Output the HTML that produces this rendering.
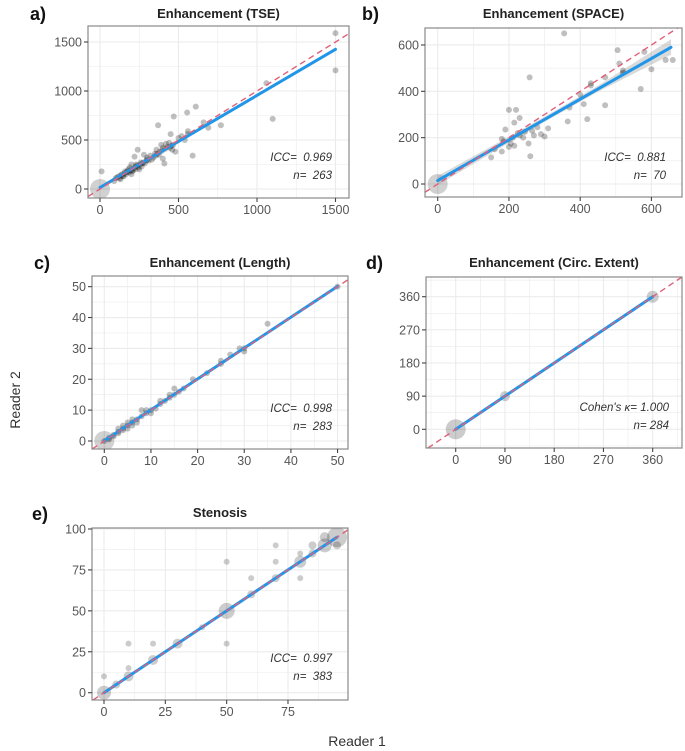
<!DOCTYPE html>
<html><head><meta charset="utf-8"><style>
html,body{margin:0;padding:0;background:#fff;width:685px;height:751px;overflow:hidden;}
svg{display:block;font-family:"Liberation Sans",sans-serif;overflow:hidden;}
text{white-space:pre;}
</style></head><body>
<svg id="chart" width="685" height="751" viewBox="0 0 685 751">
<text x="20" y="400" transform="rotate(-90 20 400)" text-anchor="middle" font-size="14" fill="#333">Reader 2</text>
<text x="357" y="746" text-anchor="middle" font-size="14" fill="#333">Reader 1</text>
</svg>
<script>
// ---- data ----
const aX=[10,1500,1500,1060,1100,770,690,660,610,555,470,370,590,560,520,500,450,420,400,380,350,300,280,240,220,200,180,160,140,120,100,90,230,260,300,330,410,400,460,480,540,560,250,200,150,130,170,210,190,230,270,320,360,390,440,110,125,135,145,155,165,175,185,195,205,215,225,235,245,255,265,275,285,295,310,340,355,365,375,395,415,430,445,455,465];
const aY=[180,1590,1210,1080,715,650,625,680,840,780,740,650,340,590,540,520,560,460,420,380,360,320,350,400,330,250,200,180,150,130,110,80,230,270,300,300,260,310,400,380,500,560,200,150,130,100,170,190,220,250,260,340,400,450,470,120,110,140,130,160,150,180,170,190,180,210,200,240,220,250,230,270,260,290,290,320,340,360,350,390,410,430,420,440,450];
const bX=[355,258,505,580,640,660,600,510,520,570,470,470,430,420,400,410,370,365,200,220,230,215,190,180,180,150,260,255,215,200,240,265,270,300,310,290,280,230,210,245,225,430,520,160,185,205];
const bY=[650,460,578,570,535,535,495,520,490,410,460,340,435,280,385,345,330,270,320,320,285,265,235,195,140,115,120,175,165,160,200,230,210,205,240,215,245,210,200,225,220,425,480,150,185,175];
const cX=[0,1,2,2,3,3,4,4,5,5,5,6,6,7,8,8,9,10,11,12,13,14,15,15,16,17,19,22,25,25,27,29,30,30,35,50,1,3,4,6,7,9,12,14,10];
const cY=[0,1,2,1.5,3,2.5,4,3.5,5,6,4,6,5,7,8,10,9,10,10.5,12,13,14,15,17,16,17,20,22,25,26,28,30,29,30,38,50,0.5,4,5,7,6,10,13,15,9];
const dX=[0,90,360];
const dY=[0,90,360];
const dR=[10,5,6];
const eX=[0,0,5,10,10,10,20,20,30,40,50,50,50,60,60,70,70,70,80,80,80,85,85,90,90,95,95];
const eY=[0,10,5,10,15,30,30,20,30,40,50,80,30,60,70,70,80,90,80,85,70,85,90,90,95,95,90];
const eR=[7,3,4,5,3,3,3,5,5,3,8,3,3,4,3,4,3,3,6,3,3,4,4,7,5,10,4];
const aTicks=[0,500,1000,1500], bTicks=[0,200,400,600], cTicks=[0,10,20,30,40,50], dTicks=[0,90,180,270,360], eTicks=[0,25,50,75,100], eXTicks=[0,25,50,75];
const fitSlope=[0.94,0.878,1.0,1.0,1.0];
const fitIntercept=[15,15,0.1,0,0];
const fitRange=[[0,1500],[0,655],[0,50],[0,360],[0,95]];
const bandX=[0,150,300,450,655];
const bandLo=[-5,132,268,398,558];
const bandHi=[35,162,290,424,624];
const titles=["Enhancement (TSE)","Enhancement (SPACE)","Enhancement (Length)","Enhancement (Circ. Extent)","Stenosis"];
const stat1=["ICC=  0.969","ICC=  0.881","ICC=  0.998","Cohen's \u03ba= 1.000","ICC=  0.997"];
const stat2=["n=  263","n=  70","n=  283","n= 284","n=  383"];

// ---- layout (pixel config) ----
const svg=document.getElementById('chart');
const NS='http://www.w3.org/2000/svg';
function mk(tag,attrs,parent){const e=document.createElementNS(NS,tag);for(const k in attrs)e.setAttribute(k,attrs[k]);(parent||svg).appendChild(e);return e;}
const panels=[
 {id:'a',box:[88,26,349,198],x0:100,xs:0.157,y0:189,ys:0.098,xt:aTicks,yt:aTicks,X:aX,Y:aY,lab:[30,20],ty:18,st:[332,161]},
 {id:'b',box:[425,28,682,197],x0:437.7,xs:0.3562,y0:184,ys:0.2317,xt:bTicks,yt:bTicks,X:bX,Y:bY,lab:[362,20],ty:18,st:[666,161]},
 {id:'c',box:[92,276,348,449],x0:104.3,xs:4.665,y0:441,ys:3.087,xt:cTicks,yt:cTicks,X:cX,Y:cY,lab:[34,269],ty:267,st:[332,412]},
 {id:'d',box:[426,277,682,448],x0:455.7,xs:0.5472,y0:429.3,ys:0.3683,xt:dTicks,yt:dTicks,X:dX,Y:dY,R:dR,lab:[366,269],ty:267,st:[669,411]},
 {id:'e',box:[92,528,348,700],x0:104,xs:2.453,y0:692.7,ys:1.637,xt:eXTicks,yt:eTicks,X:eX,Y:eY,R:eR,lab:[32,520],ty:517,st:[332,662]}
];
panels.forEach((p,i)=>{
 const g=mk('g',{},svg);
 
 
 const [L,T,Rr,B]=p.box;
 const sx=v=>p.x0+v*p.xs, sy=v=>p.y0-v*p.ys;
 const ix=px=>(px-p.x0)/p.xs, iy=py=>(p.y0-py)/p.ys;
 const clipId='clip'+p.id;
 const cp=mk('clipPath',{id:clipId},g);mk('rect',{x:L,y:T,width:Rr-L,height:B-T},cp);
 const bg=mk('rect',{x:L,y:T,width:Rr-L,height:B-T,fill:'#fff'},g);
 
 
 const grid=mk('g',{'clip-path':'url(#'+clipId+')'},g);
 
 
 const xstep=p.xt[1]-p.xt[0], ystep=p.yt[1]-p.yt[0];
 for(let v=Math.ceil(ix(L)/(xstep/2))*(xstep/2);sx(v)<=Rr;v+=xstep/2){const x=sx(v);mk('line',{x1:x,x2:x,y1:T,y2:B,stroke:'#ebebeb','stroke-width':(Math.abs((v/xstep)%1)<1e-6)?1.1:0.6},grid);}
 for(let v=Math.ceil(iy(B)/(ystep/2))*(ystep/2);sy(v)>=T;v+=ystep/2){const y=sy(v);mk('line',{x1:L,x2:Rr,y1:y,y2:y,stroke:'#ebebeb','stroke-width':(Math.abs((v/ystep)%1)<1e-6)?1.1:0.6},grid);}
 const marks=mk('g',{'clip-path':'url(#'+clipId+')'},g);
 if(!p.R){const h=mk('circle',{cx:sx(0),cy:sy(0),r:10,fill:'rgba(0,0,0,0.18)'},marks);
  
  }
 if(i===1){
  let d='';bandX.forEach((x,k)=>{d+=(k?'L':'M')+sx(x)+','+sy(bandHi[k]);});
  for(let k=bandX.length-1;k>=0;k--)d+='L'+sx(bandX[k])+','+sy(bandLo[k]);
  const band=mk('path',{d:d+'Z',fill:'rgba(150,150,150,0.35)'},marks);
  
  
 }
 p.X.forEach((x,k)=>{const c=mk('circle',{cx:sx(x),cy:sy(p.Y[k]),r:p.R?p.R[k]:3,fill:'rgba(0,0,0,'+(p.R?0.2:0.25)+')'},marks);
  
  });
 const [f0,f1]=fitRange[i];
 const fl=mk('line',{x1:sx(f0),y1:sy(fitIntercept[i]+fitSlope[i]*f0),x2:sx(f1),y2:sy(fitIntercept[i]+fitSlope[i]*f1),stroke:'#2196e8','stroke-width':3,'stroke-linecap':'round'},marks);
 
 
 const lo=Math.max(ix(L),iy(B)), hi=Math.min(ix(Rr),iy(T));
 const il=mk('line',{x1:sx(lo),y1:sy(lo),x2:sx(hi),y2:sy(hi),stroke:'#e0607a','stroke-width':1.4,'stroke-dasharray':'6,4'},marks);
 
 
 const border=mk('rect',{x:L,y:T,width:Rr-L,height:B-T,fill:'none',stroke:'#8a8a8a','stroke-width':1.2},g);
 
 
 p.xt.forEach(v=>{const x=sx(v);mk('line',{x1:x,x2:x,y1:B,y2:B+4,stroke:'#444','stroke-width':1.1},g);
  const t=mk('text',{x:x,y:B+16,'text-anchor':'middle','font-size':12.5,fill:'#555'},g);t.textContent=v;
  
  });
 p.yt.forEach(v=>{const y=sy(v);mk('line',{x1:L-4,x2:L,y1:y,y2:y,stroke:'#444','stroke-width':1.1},g);
  const t=mk('text',{x:L-6,y:y+4.5,'text-anchor':'end','font-size':12.5,fill:'#555'},g);t.textContent=v;
  
  });
 const tt=mk('text',{x:(L+Rr)/2,y:p.ty,'text-anchor':'middle','font-size':13,'font-weight':'bold',fill:'#222'},g);tt.textContent=titles[i];
 
 
 const pl=mk('text',{x:p.lab[0],y:p.lab[1],'font-size':18,'font-weight':'bold',fill:'#111'},g);pl.textContent=p.id+')';
 
 
 const s1=mk('text',{x:p.st[0],y:p.st[1],'text-anchor':'end','font-size':11.5,'font-style':'italic',fill:'#333'},g);s1.textContent=stat1[i];
 
 
 const s2=mk('text',{x:p.st[0],y:p.st[1]+18,'text-anchor':'end','font-size':11.5,'font-style':'italic',fill:'#333'},g);s2.textContent=stat2[i];
 
 
});
</script>
</body></html>
